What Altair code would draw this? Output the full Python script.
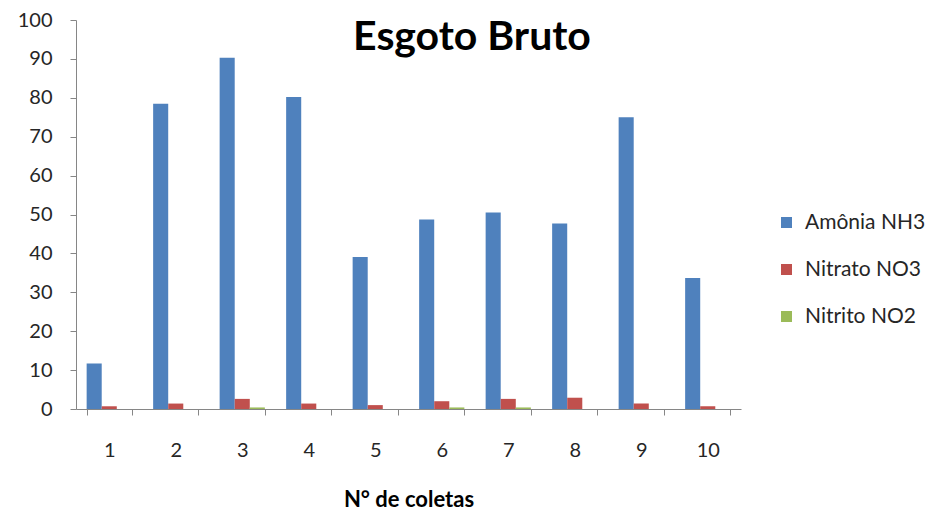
import altair as alt
import pandas as pd

# Sampling campaigns (x axis) and measured concentrations per compound
coletas = ["1", "2", "3", "4", "5", "6", "7", "8", "9", "10"]
amonia = [11.7, 78.5, 90.3, 80.2, 39.1, 48.7, 50.5, 47.7, 75.0, 33.7]
nitrato = [0.7, 1.4, 2.6, 1.4, 1.0, 2.0, 2.6, 2.9, 1.4, 0.7]
nitrito = [0.0, 0.0, 0.4, 0.0, 0.0, 0.4, 0.4, 0.0, 0.0, 0.0]

series = ["Amônia NH3", "Nitrato NO3", "Nitrito NO2"]
cores = ["#4F81BD", "#C0504D", "#9BBB59"]
y_ticks = list(range(0, 101, 10))
titulo = "Esgoto Bruto"

rows = []
for nome, valores in zip(series, [amonia, nitrato, nitrito]):
    for c, v in zip(coletas, valores):
        rows.append({"coleta": c, "serie": nome, "valor": v})
df = pd.DataFrame(rows)

FONT = "Lato"
AXIS_GREY = "#868686"
TEXT = "#262626"

bars = (
    alt.Chart(df)
    .mark_bar()
    .encode(
        x=alt.X(
            "coleta:N",
            sort=coletas,
            scale=alt.Scale(paddingInner=0.32, paddingOuter=0.16),
            axis=alt.Axis(
                title="N° de coletas",
                labelAngle=0,
                tickBand="extent",
                tickSize=6,
                tickColor=AXIS_GREY,
                domainColor=AXIS_GREY,
                labelFont=FONT,
                labelFontSize=20,
                labelColor=TEXT,
                labelPadding=25,
                titleFont=FONT,
                titleFontSize=22,
                titleFontWeight="bold",
                titleColor="#000000",
                titleY=97,
                titleBaseline="alphabetic",
            ),
        ),
        xOffset=alt.XOffset(
            "serie:N", sort=series, scale=alt.Scale(paddingInner=0, paddingOuter=0)
        ),
        y=alt.Y(
            "valor:Q",
            scale=alt.Scale(domain=[0, 100], nice=False),
            axis=alt.Axis(
                title=None,
                values=y_ticks,
                grid=False,
                tickSize=6,
                tickColor=AXIS_GREY,
                domainColor=AXIS_GREY,
                labelFont=FONT,
                labelFontSize=20,
                labelColor=TEXT,
                labelPadding=18,
            ),
        ),
        color=alt.Color(
            "serie:N",
            sort=series,
            scale=alt.Scale(domain=series, range=cores),
            legend=alt.Legend(
                title=None,
                orient="none",
                legendX=700,
                legendY=192,
                symbolType="square",
                symbolSize=121,
                symbolStrokeWidth=0,
                symbolOffset=0,
                padding=0,
                rowPadding=25,
                labelFont=FONT,
                labelFontSize=21,
                labelColor=TEXT,
                labelOffset=8,
            ),
        ),
    )
)

# Chart heading, drawn inside the plot frame
heading = (
    alt.Chart(pd.DataFrame({"t": [titulo]}))
    .mark_text(
        font=FONT,
        fontSize=41,
        fontWeight="bold",
        color="#000000",
        align="center",
        baseline="alphabetic",
    )
    .encode(x=alt.value(396), y=alt.value(30), text="t:N")
)

chart = (
    alt.layer(bars, heading)
    .properties(
        width=665,
        height=389,
        autosize=alt.AutoSizeParams(type="none"),
        padding={"left": 76, "top": 20, "right": 192, "bottom": 104},
    )
    .configure_view(stroke=None)
)

chart.save("out.html", embed_options={"renderer": "svg", "actions": False})
